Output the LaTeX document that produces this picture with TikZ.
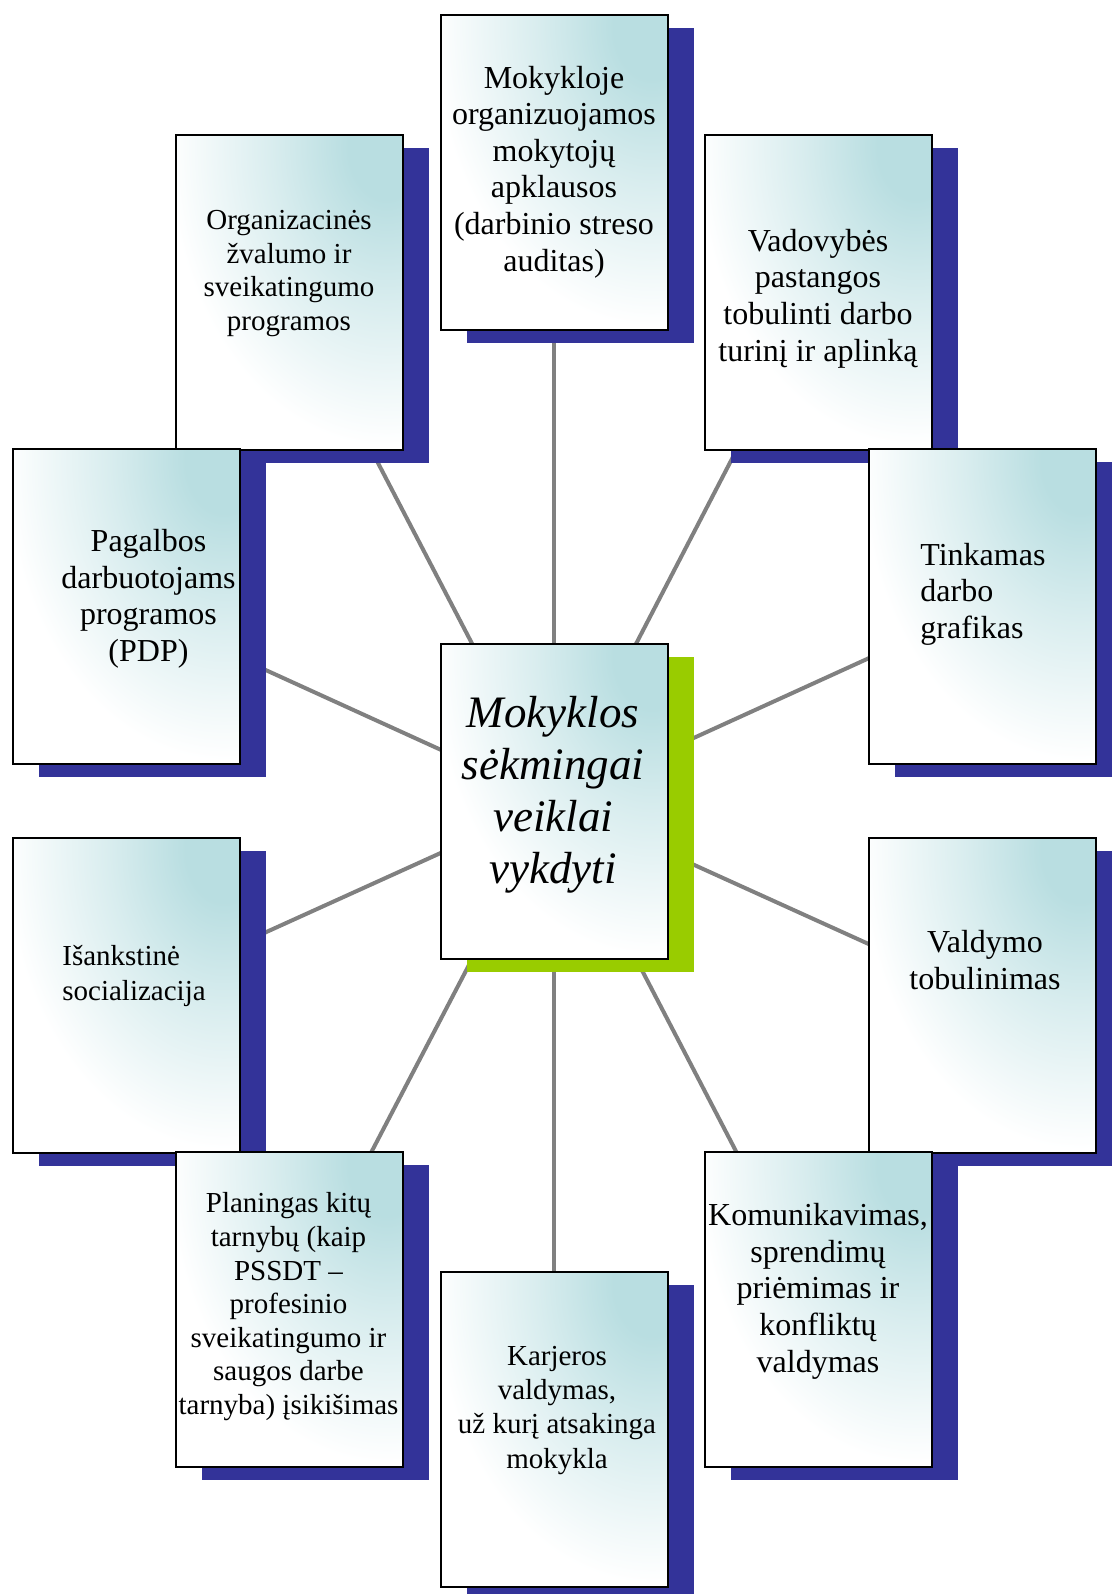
\documentclass[tikz,border=0pt]{standalone}
\usepackage{fontspec}
\setmainfont{Liberation Serif}
\usetikzlibrary{shadows, backgrounds}

\definecolor{cardteal}{RGB}{185,222,225}
\definecolor{shadowblue}{RGB}{51,51,153}
\definecolor{shadowgreen}{RGB}{153,204,0}
\definecolor{linkgray}{RGB}{128,128,128}

% teal glow that is white well inside the shaded ellipse
\pgfdeclareradialshading{cardglow}{\pgfpoint{0bp}{0bp}}{color(0bp)=(cardteal); color(2bp)=(cardteal); color(6bp)=(cardteal!55!white); color(11.5bp)=(white); color(50bp)=(white)}

\tikzset{
  card/.style={draw=black, line width=1pt, fill=white, inner sep=0pt,
    minimum width=113.25pt, minimum height=157.5pt,
    % light teal in the upper right corner, white towards left and bottom
    path picture={\shade[shading=cardglow]
      ([xshift=-8pt, yshift=-6pt]path picture bounding box.north east)
      ellipse [x radius=237pt, y radius=325pt];},
    drop shadow={shadow xshift=13pt, shadow yshift=-6.5pt, fill=#1, opacity=1}},
  card/.default=shadowblue,
  link/.style={draw=linkgray, line width=2pt},
  % anchor=base sits on the last line of a multi-line text
  txt/.style={inner sep=0pt, align=center, anchor=base, font=\fontsize{16}{18.3}\selectfont},
  smalltxt/.style={txt, font=\fontsize{14.5}{16.8}\selectfont}
}

\begin{document}
\begin{tikzpicture}[x=0.5pt, y=-0.5pt]

\useasboundingbox (0, 0) rectangle (1112, 1594);

% boxes round the centre
\node[card] (top)  at (554.25, 172.5) {};
\node[card] (topl) at (289.25, 292.5) {};
\node[card] (topr) at (818.25, 292.5) {};
\node[card] (midl) at (126.25, 606.5) {};
\node[card] (midr) at (982.25, 606.5) {};
\node[card=shadowgreen] (core) at (554.25, 801.5) {};
\node[card] (lowl) at (126.25, 995.5) {};
\node[card] (lowr) at (982.25, 995.5) {};
\node[card] (botl) at (289.25, 1309.5) {};
\node[card] (botr) at (818.25, 1309.5) {};
\node[card] (bot)  at (554.25, 1429.5) {};

% spokes, hidden under the boxes
\begin{scope}[on background layer]
\foreach \n in {top, topl, topr, midl, midr, lowl, lowr, botl, botr, bot}
  \draw[link] (core.center) -- (\n.center);
\end{scope}

% texts
\node[txt] (top-t) at (554, 271) {Mokykloje\\organizuojamos\\mokytojų\\apklausos\\(darbinio streso\\auditas)};

\node[smalltxt] (topl-t) at (289, 330.5) {Organizacinės\\žvalumo ir\\sveikatingumo\\programos};

\node[txt] (topr-t) at (818, 361) {Vadovybės\\pastangos\\tobulinti darbo\\turinį ir aplinką};

\node[txt] (midl-t) at (148.5, 661.5) {Pagalbos\\darbuotojams\\programos\\(PDP)};

\node[txt, align=left, anchor=base west] (midr-t) at (920, 638.5) {Tinkamas\\darbo\\grafikas};

\node[txt, font=\fontsize{22.5}{26}\selectfont\itshape] (core-t) at (553, 883) {Mokyklos\\sėkmingai\\veiklai\\vykdyti};

\node[smalltxt, font=\fontsize{14.5}{17.5}\selectfont, align=left, anchor=base west] (lowl-t) at (62, 1000) {Išankstinė\\socializacija};

\node[txt] (lowr-t) at (985, 989.5) {Valdymo\\tobulinimas};

\node[smalltxt] (botl-t) at (288.5, 1414.5) {Planingas kitų\\tarnybų (kaip\\PSSDT –\\profesinio\\sveikatingumo ir\\saugos darbe\\tarnyba) įsikišimas};

\node[txt] (botr-t) at (818, 1372) {Komunikavimas,\\sprendimų\\priėmimas ir\\konfliktų\\valdymas};

\node[smalltxt, font=\fontsize{14.5}{17.15}\selectfont] (bot-t) at (557, 1468) {Karjeros\\valdymas,\\už kurį atsakinga\\mokykla};

\end{tikzpicture}
\end{document}
